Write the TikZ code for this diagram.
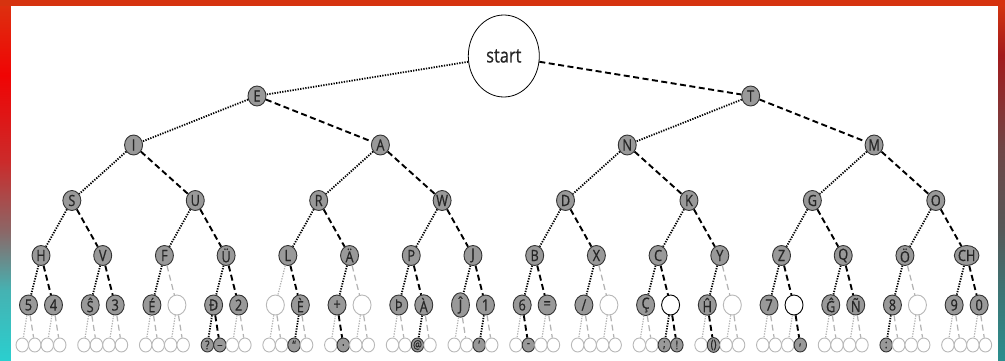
\documentclass[tikz,border=0pt]{standalone}
\usepackage{fontspec}
\setmainfont{Open Sans}[FakeStretch=0.82,FakeBold=0.6]
\usetikzlibrary{shapes.geometric}
\definecolor{topband}{HTML}{D6330F}
\definecolor{lbA}{HTML}{2ACFCF}\definecolor{lbB}{HTML}{45B2B2}\definecolor{lbC}{HTML}{8C6666}
\definecolor{lbD}{HTML}{CC2A2A}\definecolor{lbE}{HTML}{F00404}\definecolor{lbF}{HTML}{DC3310}
\definecolor{rbA}{HTML}{2A8F8F}\definecolor{rbB}{HTML}{3D7474}\definecolor{rbC}{HTML}{565858}
\definecolor{rbD}{HTML}{6E4747}\definecolor{rbE}{HTML}{A31A1C}\definecolor{rbF}{HTML}{D8380F}
\pgfdeclareverticalshading{leftband}{100bp}{color(0bp)=(lbA); color(25bp)=(lbA); color(34.8bp)=(lbB);
  color(43.1bp)=(lbC); color(52.8bp)=(lbD); color(64.6bp)=(lbE); color(75bp)=(lbF); color(100bp)=(lbF)}
\pgfdeclareverticalshading{rightband}{100bp}{color(0bp)=(rbA); color(25bp)=(rbA); color(34.8bp)=(rbB);
  color(43.1bp)=(rbC); color(54.2bp)=(rbD); color(67.4bp)=(rbE); color(75bp)=(rbF); color(100bp)=(rbF)}
\tikzset{
  knot/.style={ellipse,draw=black!80,line width=.9pt,inner sep=0pt,text=black!85,
    minimum width=18pt,minimum height=20pt,font=\fontsize{15.5}{15.5}\selectfont},
  root/.style={knot,fill=white,draw=black,line width=.8pt,
    minimum width=71pt,minimum height=82pt,font=\fontsize{20}{20}\selectfont},
  full/.style={knot,fill=black!40},
  hole/.style={knot,draw=black!28,fill=white},
  ring/.style={knot,draw=black,fill=white},
  leaf/.style={minimum width=12.5pt,minimum height=14pt,font=\fontsize{12}{12}\selectfont},
  dit/.style={line width=1.8pt,dash pattern=on 1.3pt off 1.3pt},
  dah/.style={line width=1.9pt,dash pattern=on 6pt off 3.5pt},
  full-line/.style={black},
  ring-line/.style={black},
  hole-line/.style={black!30,line width=1.2pt}
}
\begin{document}
\begin{tikzpicture}[x=1pt,y=-1pt]
  \def\xa{41}    % x of H
  \def\dx{61.71} % gap on level 4
  \def\ds{12.5}  % gap between leaves
  \useasboundingbox (0,0) rectangle (1005,361);
  % frame
  \shade[shading=leftband] (0,0) rectangle (11,361);
  \shade[shading=rightband] (998,0) rectangle (1005,361);
  \fill[topband] (0,0) rectangle (1005,6);
  \fill[white] (11,6) rectangle (998,361);

  \node[root,alias=v0-0] (start) at (503.8,56) {start};
  % levels 1 to 4
  \foreach \n/\y/\labs in {1/96/{E,T},2/145/{I,A,N,M},3/200.5/{S,U,R,W,D,K,G,O},
      4/255.5/{H,V,F,Ü,L,Ä,P,J,B,X,C,Y,Z,Q,Ö,CH}}
    \foreach \lab [count=\k from 0] in \labs {
      \pgfmathsetmacro\x{\xa+\dx*((\k+.5)*2^(4-\n)-.5)}
      \pgfmathtruncatemacro\m{\n-1}
      \pgfmathtruncatemacro\p{floor(\k/2)}
      \pgfmathtruncatemacro\s{mod(\k,2)}
      \ifnum\s=0 \def\lk{dit}\else\def\lk{dah}\fi
      \node[full] (v\n-\k) at (\x,\y) {\lab};
      \draw[\lk] (v\m-\p) -- (v\n-\k);
    }
  % level 5
  \foreach \st/\lab [count=\k from 0] in {full/5,full/4,full/Ŝ,full/3,full/É,hole/,full/Đ,full/2,
      hole/,full/È,full/+,hole/,full/Þ,full/À,full/Ĵ,full/1,
      full/6,full/=,full/\slash,hole/,full/Ç,ring/,full/Ĥ,hole/,
      full/7,ring/,full/Ĝ,full/Ñ,full/8,hole/,full/9,full/0} {
    \pgfmathsetmacro\x{\xa+\dx*floor(\k/2)+(2*mod(\k,2)-1)*\ds}
    \pgfmathtruncatemacro\p{floor(\k/2)}
    \pgfmathtruncatemacro\s{mod(\k,2)}
    \ifnum\s=0 \def\lk{dit}\else\def\lk{dah}\fi
    \node[\st] (v5-\k) at (\x,305) {\lab};
    \draw[\lk,\st-line] (v4-\p) -- (v5-\k);
  }
  % level 6
  \foreach \st/\lab [count=\k from 0] in {hole/,hole/,hole/,hole/,hole/,hole/,hole/,hole/,
      hole/,hole/,hole/,hole/,full/?,full/\_,hole/,hole/,
      hole/,hole/,full/“,hole/,hole/,full/.,hole/,hole/,
      hole/,hole/,full/@,hole/,hole/,hole/,full/',hole/,
      hole/,full/-,hole/,hole/,hole/,hole/,hole/,hole/,
      hole/,hole/,full/;,full/!,hole/,full/(),hole/,hole/,
      hole/,hole/,hole/,full/{,},hole/,hole/,hole/,hole/,
      full/:,hole/,hole/,hole/,hole/,hole/,hole/,hole/} {
    \pgfmathsetmacro\x{\xa+\dx*floor(\k/4)+(mod(\k,4)-1.5)*\ds}
    \pgfmathtruncatemacro\p{floor(\k/2)}
    \pgfmathtruncatemacro\s{mod(\k,2)}
    \ifnum\s=0 \def\lk{dit}\else\def\lk{dah}\fi
    \node[\st,leaf] (v6-\k) at (\x,345) {\lab};
    \draw[\lk,\st-line] (v5-\p) -- (v6-\k);
  }
\end{tikzpicture}
\end{document}
